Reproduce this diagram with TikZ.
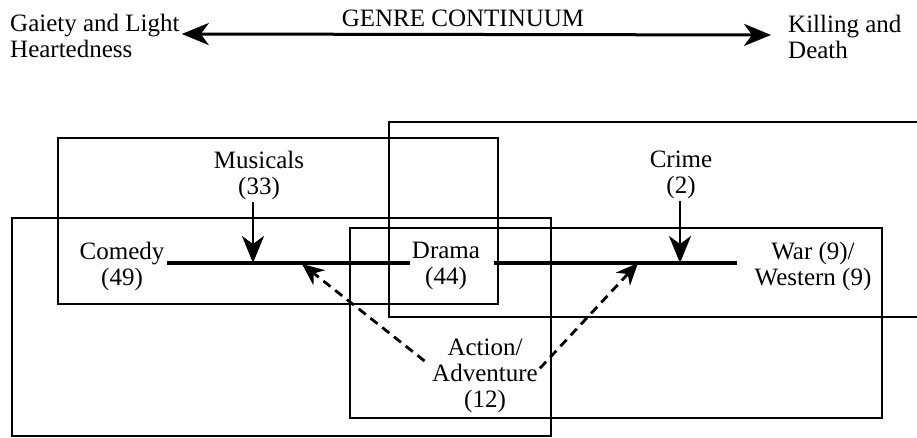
\documentclass[tikz,border=0pt]{standalone}
\usepackage{fontspec}
\setmainfont{Liberation Serif}
\usetikzlibrary{arrows.meta}
\newcommand{\genrefont}{\fontsize{25}{26}\selectfont}
\tikzset{
  genretext/.style={font=\genrefont, align=center, inner sep=2pt},
  sidetext/.style={font=\genrefont, align=left, inner sep=2pt},
  region/.style={draw, line width=1.7pt},
  continuum/.style={line width=3.5pt},
  pull/.style={-{Stealth[length=27pt,width=22pt,inset=8pt]}, line width=2.6pt},
  drift/.style={-{Stealth[length=22pt,width=19pt,inset=7pt]}, line width=2.8pt,
    dash pattern=on 9pt off 6pt},
  spread/.style={{Stealth[length=27pt,width=22pt,inset=8pt]}-{Stealth[length=27pt,width=22pt,inset=8pt]},
    line width=3pt}
}

\begin{document}
\begin{tikzpicture}[x=1pt, y=-1pt]
  \useasboundingbox (0,0) rectangle (917,437);
  % overlapping genre regions
  \draw[region] (58,138) rectangle (498,304);
  \draw[region] (389,122) rectangle (930,317);
  \draw[region] (12,218) rectangle (551,436);
  \draw[region] (350,228) rectangle (882,418);

  % scale at the top
  \node[sidetext, anchor=north west] (gaiety) at (8,12) {Gaiety and Light\\Heartedness};
  \node[sidetext, anchor=north west] (killing) at (786,13) {Killing and\\Death};
  \node[genretext, anchor=base] (scale) at (463,26) {GENRE CONTINUUM};
  \draw[spread, shorten >=15pt] ([yshift=2pt]gaiety.east) -- ([yshift=2pt]killing.west);

  % genres
  \node[genretext] (musicals) at (259,175) {Musicals\\(33)};
  \node[genretext] (crime) at (681,175) {Crime\\(2)};
  \node[genretext] (comedy) at (122,266) {Comedy\\(49)};
  \node[genretext] (drama) at (446,266) {Drama\\(44)};
  \node[genretext] (war) at (813,266) {War (9)/\\Western (9)};
  \node[genretext] (action) at (485,376) {Action/\\Adventure\\(12)};

  \coordinate (mustip) at (253,263);
  \coordinate (crimetip) at (680,263);
  \coordinate (acttipL) at (302,264);
  \coordinate (acttipR) at (638,263);

  \draw[continuum] (comedy.east |- mustip) -- (drama.west |- mustip);
  \draw[continuum] ([xshift=12pt]drama.east |- crimetip) -- ([xshift=-15pt]war.west |- crimetip);
  \draw[pull] (musicals.south -| mustip) -- (mustip);
  \draw[pull] (crime.south -| crimetip) -- (crimetip);
  \draw[drift, shorten <=7pt] (action.169) -- (acttipL);
  \draw[drift] (action.8) -- (acttipR);
\end{tikzpicture}
\end{document}
